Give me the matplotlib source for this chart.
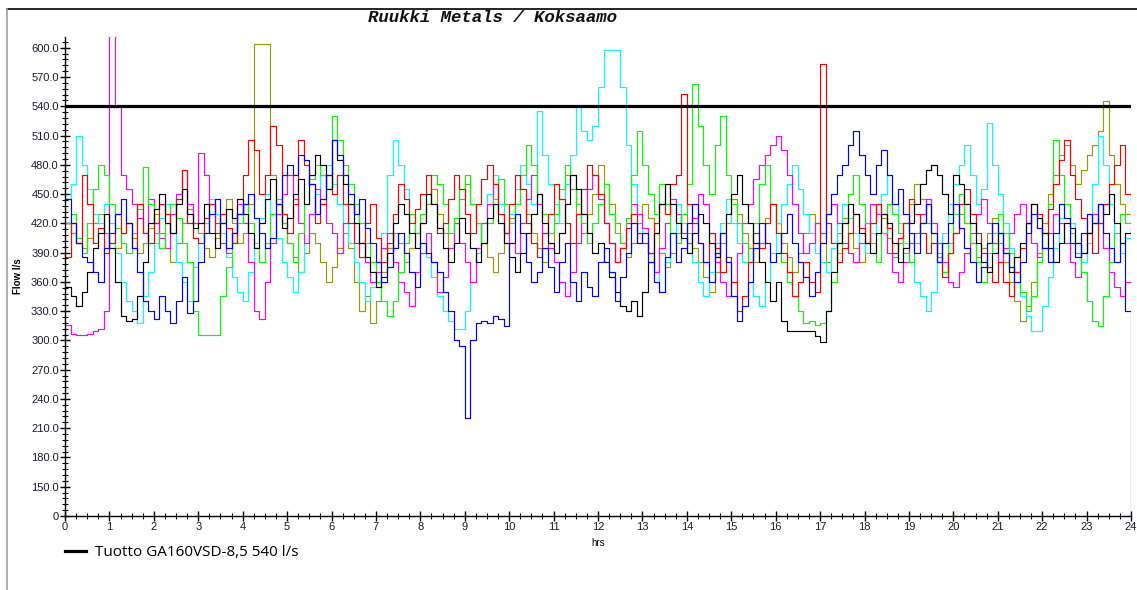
import numpy as np
import matplotlib
matplotlib.use("Agg")
import matplotlib.pyplot as plt
from matplotlib.lines import Line2D

# ---------------- data (flow l/s, 8 samples per hour, 0..24 h) ----------------
hours = np.linspace(0, 24, 193)

blue = [445, 420, 400, 385, 380, 370, 360, 395,
        410, 430, 445, 420, 395, 370, 340, 330,
        322, 345, 330, 318, 340, 365, 328, 340,
        380, 410, 430, 445, 420, 395, 410, 430,
        440, 450, 425, 410, 395, 405, 440, 470,
        480, 470, 490, 485, 460, 430, 445, 470,
        505, 490, 470, 450, 430, 445, 415, 400,
        380, 360, 375, 395, 410, 390, 370, 355,
        400, 390, 380, 370, 350, 330, 300, 294,
        220, 300, 318, 320, 318, 325, 322, 315,
        400, 430, 410, 380, 360, 370, 395, 375,
        350, 380, 400, 360, 340, 370, 355, 345,
        380, 395, 370, 340, 365, 390, 420, 400,
        410, 380, 360, 350, 385, 410, 380, 395,
        420, 440, 400, 380, 360, 390, 410, 380,
        345, 320, 335, 360, 395, 420, 400, 380,
        390, 410, 430, 400, 380, 365, 345, 370,
        400, 430, 450, 470, 480, 500, 515, 490,
        470, 450, 480, 495, 470, 440, 455, 430,
        410, 390, 420, 440, 410, 380, 400, 420,
        440, 415, 395, 380, 360, 375, 400, 420,
        410, 390, 375, 360, 380, 410, 430, 415,
        395, 380, 410, 440, 425, 400, 385, 410,
        430, 420, 440, 410, 395, 380, 400, 330,
        0]

red = [385, 420, 400, 470, 440, 400, 415, 390,
       400, 430, 410, 420, 395, 440, 410, 400,
       420, 440, 430, 410, 445, 475, 420, 405,
       400, 425, 440, 410, 430, 415, 400, 430,
       470, 505, 495, 450, 470, 520, 500, 430,
       410, 440, 505, 480, 460, 420, 440, 470,
       450, 470, 440, 420, 400, 385, 420, 440,
       405, 380, 400, 430, 460, 445, 420, 435,
       450, 470, 440, 410, 420, 445, 470, 455,
       430, 410, 440, 465, 480, 460, 430, 410,
       440, 470, 455, 420, 400, 385, 410, 430,
       460, 445, 420, 400, 430, 455, 480, 470,
       450, 420, 400, 380, 395, 415, 430, 410,
       400, 390, 420, 440, 430, 460, 470, 553,
       440, 420, 400, 380, 410, 395, 370, 385,
       360, 330, 345, 380, 410, 395, 420, 440,
       410, 390, 370, 345, 360, 380, 360, 350,
       583, 420, 400, 380, 395, 410, 430, 415,
       400, 420, 440, 430, 415, 390, 405, 420,
       445, 430, 410, 390, 400, 380, 365, 390,
       410, 440, 455, 430, 410, 390, 375, 360,
       380, 360, 345, 370, 395, 420, 440, 430,
       410, 435, 460, 485, 505, 470, 445, 425,
       410, 390, 420, 440, 460, 480, 500, 450,
       440]

green = [420, 430, 405, 390, 420, 455, 480, 470,
         440, 415, 400, 390, 410, 435, 478, 440,
         410, 395, 420, 440, 425, 400, 380, 330,
         306, 306, 306, 306, 345, 375, 400, 420,
         440, 420, 395, 380, 400, 430, 445, 420,
         400, 380, 410, 440, 465, 480, 470, 455,
         530, 505, 480, 460, 440, 420, 400, 380,
         360, 340, 325, 340, 370, 400, 430, 410,
         430, 450, 470, 460, 440, 410, 425, 455,
         470, 440, 420, 400, 420, 445, 465, 440,
         420, 440, 470, 500, 480, 450, 430, 410,
         430, 455, 480, 470, 440, 420, 400, 420,
         440, 460, 430, 410, 400, 425, 470, 515,
         480, 450, 430, 460, 440, 410, 400, 430,
         460, 563, 520, 480, 450, 500, 530, 470,
         440, 420, 400, 380, 420, 460, 480, 440,
         410, 380, 360, 345, 330, 318, 320, 316,
         318, 330, 360, 390, 420, 450, 470, 440,
         420, 400, 380, 410, 440, 430, 410, 390,
         380, 400, 420, 440, 410, 390, 370, 400,
         430, 450, 420, 400, 380, 360, 390, 410,
         430, 410, 390, 370, 350, 330, 345, 380,
         410, 440, 505, 470, 440, 410, 390, 370,
         340, 320, 315, 345, 380, 410, 430, 420,
         420]

magenta = [316, 307, 306, 306, 307, 310, 312, 330,
           612, 540, 470, 455, 440, 425, 410, 445,
           420, 405, 395, 430, 450, 475, 440, 420,
           492, 470, 440, 420, 400, 390, 410, 440,
           420, 380, 330, 322, 360, 400, 430, 450,
           470, 445, 420, 400, 430, 455, 440, 420,
           410, 390, 420, 440, 430, 400, 380, 360,
           370, 395, 410, 380, 360, 350, 335, 370,
           390, 410, 380, 350, 365, 395, 420, 400,
           380, 360, 395, 420, 440, 460, 430, 410,
           400, 390, 420, 445, 470, 440, 410, 395,
           380, 360, 345, 370, 400, 430, 455, 470,
           445, 420, 400, 380, 395, 420, 440, 430,
           415, 390, 370, 395, 420, 445, 430, 410,
           400, 425, 450, 440, 410, 380, 360, 345,
           360, 390, 420, 440, 465, 480, 490, 500,
           510, 495, 470, 440, 410, 390, 400, 420,
           410, 430, 440, 420, 400, 390, 380, 400,
           420, 440, 430, 410, 390, 370, 360, 380,
           400, 410, 430, 445, 420, 400, 380, 360,
           355, 370, 390, 410, 430, 445, 420, 400,
           380, 395, 410, 430, 440, 420, 400, 385,
           395, 410, 430, 420, 400, 380, 365, 390,
           410, 430, 420, 395, 370, 355, 345, 360,
           370]

cyan = [445, 460, 510, 480, 455, 430, 420, 440,
        420, 390, 360, 340, 330, 318, 345, 370,
        400, 425, 440, 410, 380, 360, 340, 375,
        400, 420, 445, 430, 410, 385, 365, 350,
        340, 370, 400, 425, 450, 430, 405, 380,
        365, 350, 370, 400, 430, 450, 470, 480,
        460, 440, 420, 400, 380, 360, 340, 355,
        380, 410, 470, 505, 480, 455, 430, 410,
        400, 385, 365, 345, 330, 320, 312, 312,
        330, 360, 390, 420, 450, 470, 440, 410,
        430, 455, 480, 460, 440, 535, 490, 460,
        440, 420, 460, 490, 540, 515, 505, 520,
        560, 598, 598, 598, 560, 500, 460, 430,
        410, 390, 370, 350, 380, 410, 440, 420,
        400, 380, 360, 345, 370, 400, 420, 445,
        420, 400, 380, 360, 345, 335, 360, 390,
        420, 440, 460, 480, 455, 430, 410, 390,
        380, 370, 395, 420, 440, 425, 410, 400,
        390, 410, 430, 450, 470, 440, 420, 400,
        380, 360, 345, 330, 350, 380, 410, 440,
        460, 480, 500, 470, 440, 455, 523, 480,
        450, 420, 395, 370, 345, 325, 310, 310,
        335, 365, 395, 425, 440, 420, 400, 380,
        400, 460, 510, 480, 440, 410, 390, 405,
        410]

black = [355, 345, 335, 350, 370, 395, 410, 430,
         395, 360, 325, 320, 322, 345, 380, 420,
         435, 450, 420, 410, 440, 455, 430, 415,
         420, 440, 410, 395, 420, 435, 425, 445,
         430, 410, 395, 420, 445, 465, 440, 415,
         425, 450, 465, 440, 470, 490, 480, 455,
         505, 485, 460, 440, 420, 400, 385, 370,
         355, 365, 390, 420, 440, 430, 410, 395,
         420, 450, 440, 415, 395, 380, 400, 425,
         410, 395, 380, 400, 425, 440, 420, 400,
         385, 370, 390, 410, 430, 450, 420, 400,
         390, 410, 440, 470, 455, 430, 410, 390,
         400, 380, 365, 350, 335, 330, 340, 325,
         350, 380, 410, 440, 460, 440, 420, 405,
         390, 410, 430, 420, 400, 385, 410, 430,
         450, 470, 440, 420, 400, 380, 360, 340,
         360, 320, 310, 310, 310, 310, 310, 305,
         298, 330, 370, 400, 420, 440, 430, 410,
         400, 390, 410, 430, 420, 400, 380, 395,
         420, 440, 460, 475, 480, 470, 450, 430,
         470, 460, 440, 420, 400, 380, 370, 390,
         410, 390, 370, 385, 400, 420, 440, 425,
         410, 395, 380, 400, 420, 415, 400, 390,
         410, 420, 440, 430, 450, 420, 400, 410,
         415]

olive = [420, 410, 400, 395, 405, 420, 430, 410,
         400, 395, 410, 420, 405, 390, 400, 415,
         430, 410, 395, 380, 400, 420, 435, 420,
         410, 395, 385, 405, 430, 445, 420, 400,
         410, 440, 604, 604, 604, 470, 440, 420,
         400, 385, 370, 390, 410, 400, 380, 360,
         375, 395, 410, 395, 360, 330, 345, 318,
         340, 370, 395, 410, 400, 380, 395, 410,
         420, 440, 455, 430, 410, 395, 420, 445,
         460, 440, 420, 400, 385, 370, 390, 410,
         425, 440, 455, 430, 410, 395, 380, 400,
         420, 445, 470, 455, 430, 410, 430, 450,
         480, 460, 440, 420, 400, 385, 400, 420,
         440, 425, 410, 390, 375, 390, 410, 430,
         410, 395, 380, 365, 350, 370, 400, 420,
         445, 430, 410, 395, 380, 400, 425, 440,
         420, 400, 385, 370, 390, 410, 430, 420,
         400, 380, 395, 410, 425, 410, 395, 380,
         400, 420, 440, 425, 405, 385, 400, 420,
         440, 460, 445, 420, 400, 385, 370, 390,
         410, 430, 420, 400, 385, 395, 410, 425,
         400, 380, 360, 340, 320, 335, 360, 390,
         420, 450, 470, 490, 500, 480, 460, 475,
         490, 500, 515, 545, 490, 460, 440, 430,
         430]

capacity = 540
capacity_label = "Tuotto GA160VSD-8,5 540 l/s"
title = "Ruukki Metals / Koksaamo"
y_major = [0, 150, 180, 210, 240, 270, 300, 330, 360, 390, 420, 450,
           480, 510, 540, 570, 600]
y_labels = ["0"] + [f"{v:.1f}" for v in y_major[1:]]
x_major = list(range(0, 25))

series = [("#999900", olive), ("#00ffff", cyan), ("#ff00ff", magenta),
          ("#00ff00", green), ("#ff0000", red), ("#000000", black),
          ("#0000ff", blue)]

# ---------------- axis with compressed 0..150 segment ----------------
def fwd(v):
    v = np.asarray(v, dtype=float)
    return np.where(v >= 150, v, 120 + v * 0.2)

def inv(u):
    u = np.asarray(u, dtype=float)
    return np.where(u >= 150, u, (u - 120) * 5)

fig = plt.figure(figsize=(11.37, 5.90), dpi=100)
ax = fig.add_axes([65 / 1137, 74 / 590, (1131 - 65) / 1137, (516 - 37) / 590])
ax.set_yscale('function', functions=(fwd, inv))

for col, vals in series:
    assert len(vals) == len(hours)
    ax.plot(hours, vals, color=col, lw=0.85, drawstyle='steps-post', zorder=2)

cap_line = ax.axhline(capacity, color='black', lw=2.3, zorder=3)

ax.set_xlim(0, 24)
ax.set_ylim(0, 611)
ax.set_yticks(y_major)
ax.set_yticklabels(y_labels)
minor_y = [30, 60, 90, 120] + [v for v in range(156, 611, 6) if v % 30 != 0]
ax.set_yticks(minor_y, minor=True)
ax.set_xticks(x_major)
ax.set_xticks(np.arange(0, 24.01, 0.25), minor=True)

for s in ['top', 'right']:
    ax.spines[s].set_visible(False)
for s in ['left', 'bottom']:
    ax.spines[s].set_linewidth(1.0)

ax.tick_params(axis='both', which='major', direction='inout', length=7,
               width=1.0, labelsize=8, labelcolor='#1a1a33', pad=1)
ax.tick_params(axis='both', which='minor', direction='inout', length=4,
               width=0.8)
for lab in ax.get_yticklabels() + ax.get_xticklabels():
    lab.set_family('Liberation Sans')

ax.set_ylabel("Flow l/s", fontsize=7, fontweight='bold', labelpad=6,
              family='Liberation Sans')
ax.set_xlabel("hrs", fontsize=7, labelpad=4, family='Liberation Sans')

fig.text(492 / 1137, 1 - 18 / 590, title, ha='center', va='center',
         family='Liberation Mono', style='italic', fontweight='bold',
         fontsize=12.5, color='#111111')

# legend below axes
fig.legend([Line2D([0], [0], color='black', lw=2.3)], [capacity_label],
           loc='center left', bbox_to_anchor=(51 / 1137, 1 - 553 / 590),
           frameon=False, handlelength=1.4, handletextpad=0.6,
           prop={'family': 'Open Sans', 'size': 11})

# window frame
fig.add_artist(Line2D([7 / 1137, 1], [1 - 9 / 590, 1 - 9 / 590],
                      transform=fig.transFigure, color='black', lw=1.2))
fig.add_artist(Line2D([7 / 1137, 7 / 1137], [0, 1 - 9 / 590],
                      transform=fig.transFigure, color='#a0a0a0', lw=1.2))

fig.savefig("out.png", dpi=100)
